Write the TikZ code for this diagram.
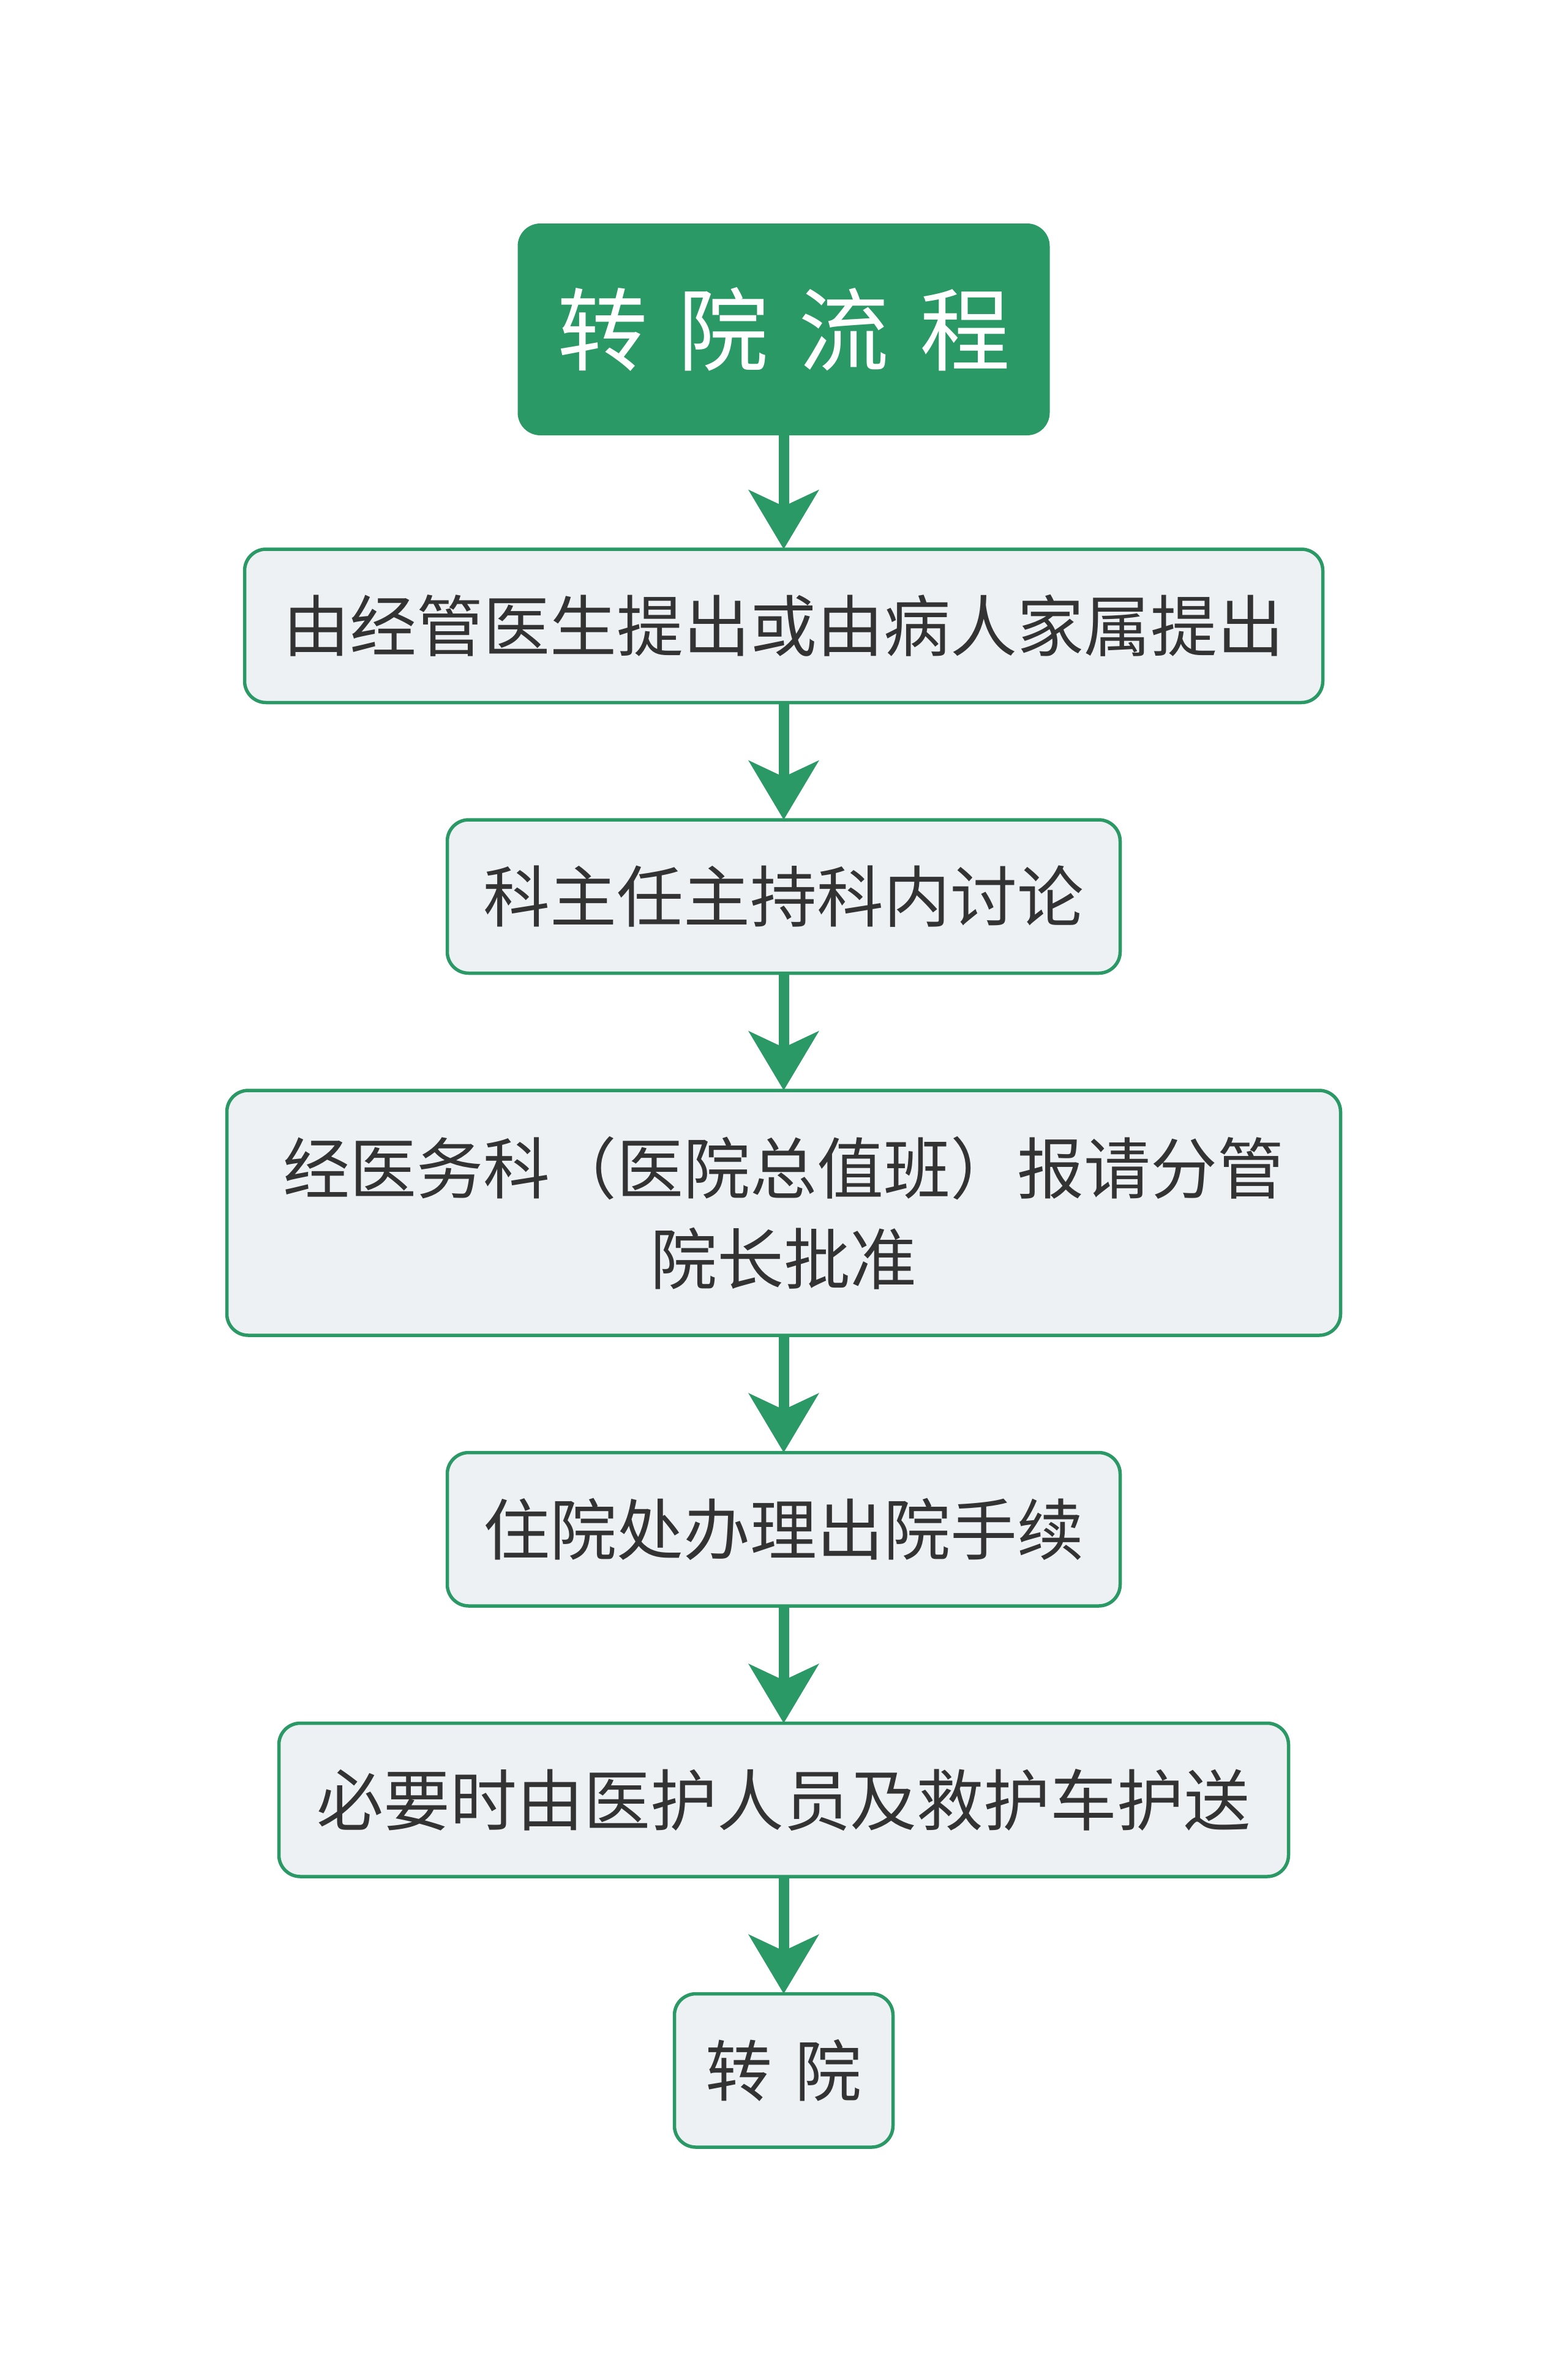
\documentclass[tikz,border=0pt]{standalone}
\usepackage{fontspec}
\setmainfont{Noto Sans CJK SC}[WordSpace=1.5]
\usepackage{xcolor}
\usetikzlibrary{positioning,arrows.meta}
\definecolor{flowgreen}{HTML}{2A9966}
\definecolor{boxfill}{HTML}{EEF1F4}
\definecolor{textgray}{HTML}{333333}

\begin{document}
\begin{tikzpicture}[
  node distance=1.915cm,
  headbox/.style={rectangle, rounded corners=0.37cm, fill=flowgreen, text=white, minimum width=8.69cm, minimum height=3.46cm, outer sep=0pt, font=\fontsize{42}{50}\selectfont},
  stepbox/.style={draw=flowgreen, line width=0.055cm, rectangle, rounded corners=0.35cm, fill=boxfill, text=textgray, minimum height=2.505cm, outer sep=0pt, align=center, font=\fontsize{31}{42}\selectfont},
  arrow/.style={-{Stealth[length=0.96cm, width=1.13cm, inset=0.26cm]}, line width=0.17cm, draw=flowgreen}
]
\useasboundingbox (0,0) rectangle (25.6,-38.71);

\node[headbox] (head) at (12.8,-5.38) {转 院 流 程};
\node[stepbox, minimum width=17.61cm, below=1.86cm of head] (propose) {由经管医生提出或由病人家属提出};
\node[stepbox, minimum width=10.99cm, below=of propose] (discuss) {科主任主持科内讨论};
\node[stepbox, minimum width=18.19cm, minimum height=4.0cm, below=of discuss] (approve) {经医务科（医院总值班）报请分管\\院长批准};
\node[stepbox, minimum width=10.99cm, below=of approve] (discharge) {住院处办理出院手续};
\node[stepbox, minimum width=16.49cm, below=of discharge] (escort) {必要时由医护人员及救护车护送};
\node[stepbox, minimum width=3.57cm, below=of escort] (transfer) {转 院};

\draw[arrow] (head) -- (propose);
\draw[arrow] (propose) -- (discuss);
\draw[arrow] (discuss) -- (approve);
\draw[arrow] (approve) -- (discharge);
\draw[arrow] (discharge) -- (escort);
\draw[arrow] (escort) -- (transfer);
\end{tikzpicture}
\end{document}
